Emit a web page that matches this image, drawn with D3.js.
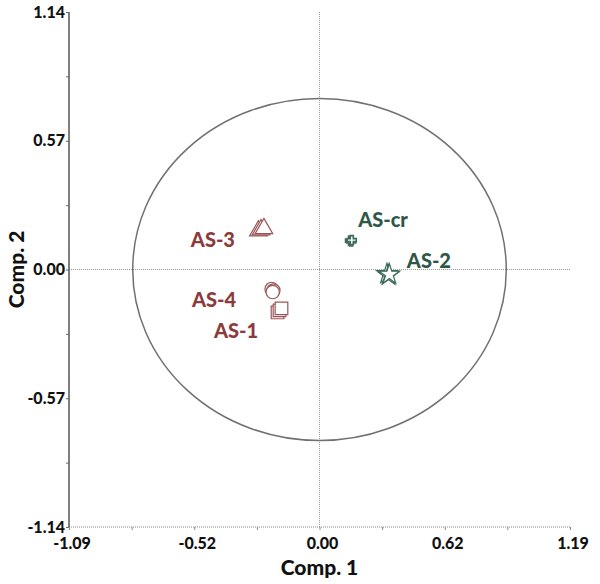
<!DOCTYPE html>
<html>
<head>
<meta charset="utf-8">
<script src="https://cdn.jsdelivr.net/npm/d3@7"></script>
<style>
  body { margin: 0; background: #fff; }
  svg text { font-family: Lato, "Open Sans", sans-serif; font-weight: 900; }
</style>
</head>
<body>
<svg id="chart" width="600" height="584"></svg>
<script>
// Axis ranges and tick labels as printed on the plot
const xDomain = [-1.09, 1.19];
const yDomain = [-1.14, 1.14];
const xTickValues = [-1.09, -0.52, 0.05, 0.62, 1.19];
const xTickLabels = ["-1.09", "-0.52", "0.00", "0.62", "1.19"];
const yTickValues = [-1.14, -0.57, 0, 0.57, 1.14];
const yTickLabels = ["-1.14", "-0.57", "0.00", "0.57", "1.14"];

// origin of the crosshair (middle tick, labelled 0.00)
const origin = [0.05, 0];
// correlation ellipse radii in axis units
const ellipseRadius = [0.85, 0.757];

// samples: name, group, marker
const samples = ["AS-3", "AS-4", "AS-1", "AS-cr", "AS-2"];
const groups = ["red", "red", "red", "green", "green"];
const markers = ["triangle", "circle", "square", "cross", "star"];

// replicate scores (Comp. 1, Comp. 2)
const scores = [
  [[-0.228, 0.171], [-0.216, 0.176], [-0.203, 0.181]],
  [[-0.168, -0.086], [-0.160, -0.093], [-0.163, -0.100]],
  [[-0.141, -0.190], [-0.132, -0.181], [-0.123, -0.172]],
  [[0.189, 0.128], [0.194, 0.124], [0.197, 0.130]],
  [[0.357, -0.020], [0.364, -0.026], [0.368, -0.022]]
];

// where the sample names sit
const labelPos = [
  [-0.435, 0.131],
  [-0.430, -0.135],
  [-0.330, -0.272],
  [0.339, 0.219],
  [0.548, 0.038]
];

const colors = { red: "#8a3b3b", green: "#2e5747" };
const markerColors = { red: "#9a5656", green: "#3d6a59" };

const svg = d3.select("#chart");
const margin = { top: 12, right: 30, bottom: 57, left: 69 };
const width = 600, height = 584;

const x = d3.scaleLinear().domain(xDomain).range([margin.left, width - margin.right]);
const y = d3.scaleLinear().domain(yDomain).range([height - margin.bottom, margin.top]);

// minor ticks: every half step between labels
const xMinor = d3.range(9).map(i => xDomain[0] + i * (xDomain[1] - xDomain[0]) / 8);
const yMinor = d3.range(9).map(i => yDomain[0] + i * (yDomain[1] - yDomain[0]) / 8);

// crosshair lines
svg.append("line")
  .attr("x1", x(origin[0])).attr("x2", x(origin[0]))
  .attr("y1", y(yDomain[1])).attr("y2", y(yDomain[0]))
  .attr("stroke", "#999").attr("stroke-width", 1).attr("stroke-dasharray", "1,1");

svg.append("line")
  .attr("x1", x(xDomain[0])).attr("x2", x(xDomain[1]))
  .attr("y1", y(origin[1])).attr("y2", y(origin[1]))
  .attr("stroke", "#999").attr("stroke-width", 1).attr("stroke-dasharray", "1,1");

// ellipse
svg.append("ellipse")
  .attr("cx", x(origin[0])).attr("cy", y(origin[1]))
  .attr("rx", x(origin[0] + ellipseRadius[0]) - x(origin[0]))
  .attr("ry", y(origin[1]) - y(origin[1] + ellipseRadius[1]))
  .attr("fill", "none").attr("stroke", "#707070").attr("stroke-width", 1.5);

// bottom axis: dotted line
const xAxis = svg.append("g").attr("transform", `translate(0,${y(yDomain[0])})`);
xAxis.append("line")
  .attr("x1", x(xDomain[0])).attr("x2", x(xDomain[1]))
  .attr("stroke", "#888").attr("stroke-width", 1).attr("stroke-dasharray", "1,1");
xAxis.call(d3.axisBottom(x).tickValues(xMinor).tickSize(3).tickFormat(""))
  .call(g => g.select(".domain").remove())
  .call(g => g.selectAll(".tick line").attr("stroke", "#888"));
xAxis.selectAll(".lbl")
  .data(xTickValues)
  .join("text")
    .attr("class", "lbl")
    .attr("x", d => x(d) + 3)
    .attr("y", 22)
    .attr("text-anchor", "middle")
    .attr("font-size", 16)
    .attr("fill", "#111")
    .text((d, i) => xTickLabels[i]);

// left axis: solid line
const yAxis = svg.append("g").attr("transform", `translate(${x(xDomain[0])},0)`);
yAxis.call(d3.axisLeft(y).tickValues(yMinor).tickSize(3).tickFormat(""))
  .call(g => g.select(".domain").attr("stroke", "#555").attr("stroke-width", 1.5)
    .attr("d", `M0,${y(yDomain[1])}V${y(yDomain[0])}`))
  .call(g => g.selectAll(".tick line").attr("stroke", "#666"));
yAxis.selectAll(".lbl")
  .data(yTickValues)
  .join("text")
    .attr("class", "lbl")
    .attr("x", -4)
    .attr("y", d => y(d))
    .attr("dy", "0.35em")
    .attr("text-anchor", "end")
    .attr("font-size", 16)
    .attr("fill", "#111")
    .text((d, i) => yTickLabels[i]);

// axis titles
svg.append("text")
  .attr("x", x(origin[0]))
  .attr("y", 575)
  .attr("text-anchor", "middle")
  .attr("font-size", 21)
  .attr("fill", "#111")
  .text("Comp. 1");

svg.append("text")
  .attr("transform", `translate(24,${y(0)}) rotate(-90)`)
  .attr("text-anchor", "middle")
  .attr("font-size", 21)
  .attr("fill", "#111")
  .text("Comp. 2");

// marker shapes
const symbolFor = {
  triangle: d3.symbol().type(d3.symbolTriangle).size(135),
  circle: d3.symbol().type(d3.symbolCircle).size(140),
  square: d3.symbol().type(d3.symbolSquare).size(160),
  cross: d3.symbol().type(d3.symbolCross).size(45),
  star: d3.symbol().type(d3.symbolStar).size(130)
};

samples.forEach((name, i) => {
  svg.append("g")
    .selectAll("path")
    .data(scores[i])
    .join("path")
      .attr("transform", d => `translate(${x(d[0])},${y(d[1])})`)
      .attr("d", symbolFor[markers[i]]())
      .attr("fill", "#fff")
      .attr("stroke", markerColors[groups[i]])
      .attr("stroke-width", markers[i] === "cross" ? 1.6 : 1.2);

  svg.append("text")
    .attr("x", x(labelPos[i][0]))
    .attr("y", y(labelPos[i][1]))
    .attr("dy", "0.35em")
    .attr("text-anchor", "middle")
    .attr("font-size", 20)
    .attr("fill", colors[groups[i]])
    .text(name);
});
</script>
</body>
</html>
